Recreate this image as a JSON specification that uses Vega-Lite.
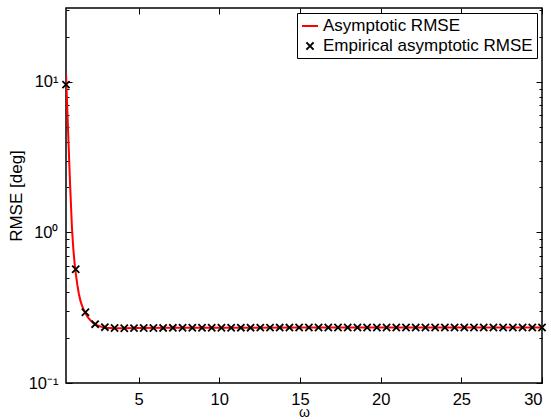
{
  "$schema": "https://vega.github.io/schema/vega-lite/v6.json",
  "width": 476,
  "height": 375,
  "autosize": {"type": "none"},
  "padding": {"left": 66, "top": 8, "right": 9, "bottom": 37},
  "config": {
    "font": "Liberation Sans",
    "view": {"stroke": "black", "strokeWidth": 1.5},
    "axis": {
      "domain": false, "tickColor": "black", "tickWidth": 1, "ticks": true,
      "labelColor": "black", "titleColor": "black", "grid": false,
      "labelFontSize": 16.5, "titleFontSize": 17, "titleFontWeight": "normal",
      "labelFont": "Liberation Sans", "titleFont": "Liberation Sans"
    },
    "legend": {
      "orient": "top-right", "offset": 5, "strokeColor": "black", "fillColor": "white",
      "padding": 4, "labelFontSize": 17, "labelFont": "Liberation Sans", "labelColor": "black",
      "symbolSize": 256, "symbolStrokeWidth": 2, "rowPadding": 3, "labelOffset": 4, "labelLimit": 400
    }
  },
  "datasets": {
    "curve": [
      {"omega": 0.5, "rmse": 11.4, "series": "Asymptotic RMSE"},
      {"omega": 0.53, "rmse": 9.3, "series": "Asymptotic RMSE"},
      {"omega": 0.562, "rmse": 7.5, "series": "Asymptotic RMSE"},
      {"omega": 0.624, "rmse": 4.9, "series": "Asymptotic RMSE"},
      {"omega": 0.686, "rmse": 3.25, "series": "Asymptotic RMSE"},
      {"omega": 0.748, "rmse": 2.15, "series": "Asymptotic RMSE"},
      {"omega": 0.81, "rmse": 1.51, "series": "Asymptotic RMSE"},
      {"omega": 0.872, "rmse": 1.06, "series": "Asymptotic RMSE"},
      {"omega": 0.953, "rmse": 0.78, "series": "Asymptotic RMSE"},
      {"omega": 1.03, "rmse": 0.63, "series": "Asymptotic RMSE"},
      {"omega": 1.1, "rmse": 0.54, "series": "Asymptotic RMSE"},
      {"omega": 1.2, "rmse": 0.45, "series": "Asymptotic RMSE"},
      {"omega": 1.3, "rmse": 0.39, "series": "Asymptotic RMSE"},
      {"omega": 1.4, "rmse": 0.35, "series": "Asymptotic RMSE"},
      {"omega": 1.5, "rmse": 0.325, "series": "Asymptotic RMSE"},
      {"omega": 1.6, "rmse": 0.305, "series": "Asymptotic RMSE"},
      {"omega": 1.7, "rmse": 0.292, "series": "Asymptotic RMSE"},
      {"omega": 1.85, "rmse": 0.274, "series": "Asymptotic RMSE"},
      {"omega": 2.0, "rmse": 0.262, "series": "Asymptotic RMSE"},
      {"omega": 2.2, "rmse": 0.25, "series": "Asymptotic RMSE"},
      {"omega": 2.45, "rmse": 0.241, "series": "Asymptotic RMSE"},
      {"omega": 2.7, "rmse": 0.236, "series": "Asymptotic RMSE"},
      {"omega": 3.0, "rmse": 0.233, "series": "Asymptotic RMSE"},
      {"omega": 3.5, "rmse": 0.2315, "series": "Asymptotic RMSE"},
      {"omega": 4.0, "rmse": 0.2312, "series": "Asymptotic RMSE"},
      {"omega": 5.0, "rmse": 0.2318, "series": "Asymptotic RMSE"},
      {"omega": 7.0, "rmse": 0.2325, "series": "Asymptotic RMSE"},
      {"omega": 10.0, "rmse": 0.233, "series": "Asymptotic RMSE"},
      {"omega": 15.0, "rmse": 0.2335, "series": "Asymptotic RMSE"},
      {"omega": 20.0, "rmse": 0.2337, "series": "Asymptotic RMSE"},
      {"omega": 25.0, "rmse": 0.2338, "series": "Asymptotic RMSE"},
      {"omega": 30.0, "rmse": 0.2339, "series": "Asymptotic RMSE"}
    ],
    "empirical": [
      {"omega": 0.5, "rmse": 9.6, "series": "Empirical asymptotic RMSE"},
      {"omega": 1.102, "rmse": 0.57, "series": "Empirical asymptotic RMSE"},
      {"omega": 1.704, "rmse": 0.295, "series": "Empirical asymptotic RMSE"},
      {"omega": 2.306, "rmse": 0.246, "series": "Empirical asymptotic RMSE"},
      {"omega": 2.908, "rmse": 0.235, "series": "Empirical asymptotic RMSE"},
      {"omega": 3.51, "rmse": 0.232, "series": "Empirical asymptotic RMSE"},
      {"omega": 4.112, "rmse": 0.231, "series": "Empirical asymptotic RMSE"},
      {"omega": 4.714, "rmse": 0.2315, "series": "Empirical asymptotic RMSE"},
      {"omega": 5.316, "rmse": 0.232, "series": "Empirical asymptotic RMSE"},
      {"omega": 5.918, "rmse": 0.232, "series": "Empirical asymptotic RMSE"},
      {"omega": 6.52, "rmse": 0.2323, "series": "Empirical asymptotic RMSE"},
      {"omega": 7.122, "rmse": 0.2325, "series": "Empirical asymptotic RMSE"},
      {"omega": 7.724, "rmse": 0.2326, "series": "Empirical asymptotic RMSE"},
      {"omega": 8.327, "rmse": 0.2328, "series": "Empirical asymptotic RMSE"},
      {"omega": 8.929, "rmse": 0.2329, "series": "Empirical asymptotic RMSE"},
      {"omega": 9.531, "rmse": 0.233, "series": "Empirical asymptotic RMSE"},
      {"omega": 10.133, "rmse": 0.233, "series": "Empirical asymptotic RMSE"},
      {"omega": 10.735, "rmse": 0.2331, "series": "Empirical asymptotic RMSE"},
      {"omega": 11.337, "rmse": 0.2332, "series": "Empirical asymptotic RMSE"},
      {"omega": 11.939, "rmse": 0.2332, "series": "Empirical asymptotic RMSE"},
      {"omega": 12.541, "rmse": 0.2333, "series": "Empirical asymptotic RMSE"},
      {"omega": 13.143, "rmse": 0.2333, "series": "Empirical asymptotic RMSE"},
      {"omega": 13.745, "rmse": 0.2334, "series": "Empirical asymptotic RMSE"},
      {"omega": 14.347, "rmse": 0.2334, "series": "Empirical asymptotic RMSE"},
      {"omega": 14.949, "rmse": 0.2335, "series": "Empirical asymptotic RMSE"},
      {"omega": 15.551, "rmse": 0.2335, "series": "Empirical asymptotic RMSE"},
      {"omega": 16.153, "rmse": 0.2335, "series": "Empirical asymptotic RMSE"},
      {"omega": 16.755, "rmse": 0.2336, "series": "Empirical asymptotic RMSE"},
      {"omega": 17.357, "rmse": 0.2336, "series": "Empirical asymptotic RMSE"},
      {"omega": 17.959, "rmse": 0.2336, "series": "Empirical asymptotic RMSE"},
      {"omega": 18.561, "rmse": 0.2336, "series": "Empirical asymptotic RMSE"},
      {"omega": 19.163, "rmse": 0.2337, "series": "Empirical asymptotic RMSE"},
      {"omega": 19.765, "rmse": 0.2337, "series": "Empirical asymptotic RMSE"},
      {"omega": 20.367, "rmse": 0.2337, "series": "Empirical asymptotic RMSE"},
      {"omega": 20.969, "rmse": 0.2337, "series": "Empirical asymptotic RMSE"},
      {"omega": 21.571, "rmse": 0.2337, "series": "Empirical asymptotic RMSE"},
      {"omega": 22.173, "rmse": 0.2338, "series": "Empirical asymptotic RMSE"},
      {"omega": 22.776, "rmse": 0.2338, "series": "Empirical asymptotic RMSE"},
      {"omega": 23.378, "rmse": 0.2338, "series": "Empirical asymptotic RMSE"},
      {"omega": 23.98, "rmse": 0.2338, "series": "Empirical asymptotic RMSE"},
      {"omega": 24.582, "rmse": 0.2338, "series": "Empirical asymptotic RMSE"},
      {"omega": 25.184, "rmse": 0.2338, "series": "Empirical asymptotic RMSE"},
      {"omega": 25.786, "rmse": 0.2338, "series": "Empirical asymptotic RMSE"},
      {"omega": 26.388, "rmse": 0.2339, "series": "Empirical asymptotic RMSE"},
      {"omega": 26.99, "rmse": 0.2339, "series": "Empirical asymptotic RMSE"},
      {"omega": 27.592, "rmse": 0.2339, "series": "Empirical asymptotic RMSE"},
      {"omega": 28.194, "rmse": 0.2339, "series": "Empirical asymptotic RMSE"},
      {"omega": 28.796, "rmse": 0.2339, "series": "Empirical asymptotic RMSE"},
      {"omega": 29.398, "rmse": 0.2339, "series": "Empirical asymptotic RMSE"},
      {"omega": 30.0, "rmse": 0.2339, "series": "Empirical asymptotic RMSE"}
    ]
  },
  "layer": [
    {
      "data": {"name": "curve"},
      "mark": {"type": "line", "strokeWidth": 2, "clip": true},
      "encoding": {
        "x": {
          "field": "omega", "type": "quantitative",
          "scale": {"domain": [0.5, 30], "nice": false, "zero": false},
          "axis": {
            "orient": "bottom", "values": [5, 10, 15, 20, 25, 30], "offset": -6, "tickSize": 6, "labelPadding": 8,
            "title": "ω", "titleFontSize": 14, "titleBaseline": "alphabetic", "titlePadding": 9
          }
        },
        "y": {
          "field": "rmse", "type": "quantitative",
          "scale": {"type": "log", "domain": [0.1, 31], "nice": false},
          "axis": {
            "orient": "left", "values": [0.1, 1, 10], "offset": -6, "tickSize": 6,
            "labelExpr": "datum.value == 10 ? '10¹' : datum.value == 1 ? '10⁰' : '10⁻¹'",
            "labelPadding": 8,
            "title": "RMSE [deg]", "titlePadding": 3
          }
        },
        "color": {
          "field": "series", "type": "nominal",
          "scale": {"domain": ["Asymptotic RMSE", "Empirical asymptotic RMSE"], "range": ["#ff0000", "#000000"]},
          "legend": {"title": null}
        }
      }
    },
    {
      "data": {"name": "empirical"},
      "mark": {"type": "point", "filled": false, "strokeWidth": 1.8, "size": 256, "opacity": 1, "clip": false},
      "encoding": {
        "x": {
          "field": "omega", "type": "quantitative",
          "scale": {"domain": [0.5, 30], "nice": false, "zero": false},
          "axis": {"orient": "top", "values": [5, 10, 15, 20, 25, 30], "offset": -6, "tickSize": 6, "labels": false, "title": null}
        },
        "y": {
          "field": "rmse", "type": "quantitative",
          "scale": {"type": "log", "domain": [0.1, 31], "nice": false},
          "axis": {"orient": "right", "values": [0.1, 1, 10], "offset": -6, "tickSize": 6, "labels": false, "title": null}
        },
        "color": {
          "field": "series", "type": "nominal",
          "scale": {"domain": ["Asymptotic RMSE", "Empirical asymptotic RMSE"], "range": ["#ff0000", "#000000"]},
          "legend": {"title": null}
        },
        "shape": {
          "field": "series", "type": "nominal",
          "scale": {"domain": ["Asymptotic RMSE", "Empirical asymptotic RMSE"], "range": ["stroke", "M-0.45,-0.45L0.45,0.45M-0.45,0.45L0.45,-0.45"]},
          "legend": {"title": null}
        }
      }
    },
    {
      "data": {"name": "empirical"},
      "mark": {"type": "point", "opacity": 0},
      "encoding": {
        "x": {"field": "omega", "type": "quantitative", "axis": null},
        "y": {
          "field": "rmse", "type": "quantitative",
          "axis": {"orient": "left", "values": [0.2, 0.3, 0.4, 0.5, 0.6, 0.7, 0.8, 0.9, 2, 3, 4, 5, 6, 7, 8, 9, 20, 30], "offset": -3, "tickSize": 3, "labels": false, "title": null}
        }
      }
    },
    {
      "data": {"name": "empirical"},
      "mark": {"type": "point", "opacity": 0},
      "encoding": {
        "x": {"field": "omega", "type": "quantitative", "axis": null},
        "y": {
          "field": "rmse", "type": "quantitative",
          "axis": {"orient": "right", "values": [0.2, 0.3, 0.4, 0.5, 0.6, 0.7, 0.8, 0.9, 2, 3, 4, 5, 6, 7, 8, 9, 20, 30], "offset": -3, "tickSize": 3, "labels": false, "title": null}
        }
      }
    }
  ],
  "resolve": {"axis": {"x": "independent", "y": "independent"}}
}
